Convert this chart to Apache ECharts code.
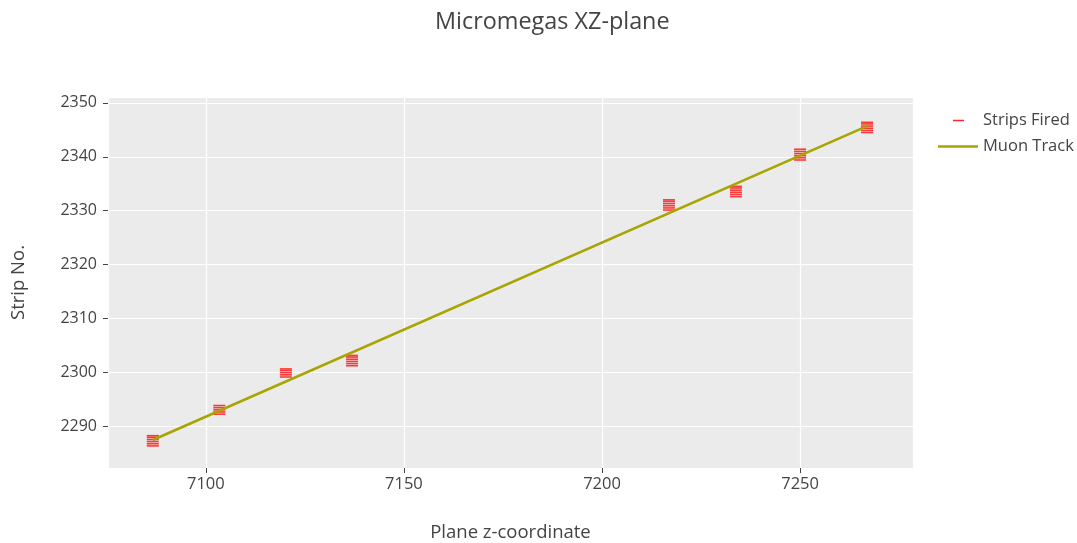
<!DOCTYPE html>
<html>
<head>
<meta charset="utf-8">
<script src="https://cdn.jsdelivr.net/npm/echarts@6/dist/echarts.min.js"></script>
<style>html,body{margin:0;padding:0;background:#fff}#c{width:1077px;height:543px}</style>
</head>
<body>
<div id="c"></div>
<script>
// Plane z-coordinates of the strip clusters
var planeZ = [7086.6, 7103.4, 7120.2, 7136.9, 7216.9, 7233.8, 7250.0, 7266.9];
// Fired strip values per plane
var stripsPlane1 = [2286.3, 2286.7, 2287.1, 2287.5, 2287.9, 2288.2];
var stripsPlane2 = [2292.2, 2292.6, 2293.0, 2293.4, 2293.8];
var stripsPlane3 = [2299.1, 2299.5, 2299.9, 2300.3, 2300.6];
var stripsPlane4 = [2301.2, 2301.6, 2302.0, 2302.4, 2302.8, 2303.1];
var stripsPlane5 = [2330.1, 2330.5, 2330.9, 2331.3, 2331.7, 2332.0];
var stripsPlane6 = [2332.6, 2333.0, 2333.4, 2333.8, 2334.2, 2334.5];
var stripsPlane7 = [2339.4, 2339.8, 2340.2, 2340.6, 2341.0, 2341.4];
var stripsPlane8 = [2344.5, 2344.9, 2345.3, 2345.7, 2346.1, 2346.4];
// Muon track end points
var trackZ = [7086.6, 7266.9];
var trackStrip = [2287.4, 2345.7];

var yTicks = [2290, 2300, 2310, 2320, 2330, 2340, 2350];
var xTicks = [7100, 7150, 7200, 7250];

var allStrips = [stripsPlane1, stripsPlane2, stripsPlane3, stripsPlane4, stripsPlane5, stripsPlane6, stripsPlane7, stripsPlane8];
var stripPoints = [];
for (var i = 0; i < planeZ.length; i++) {
  for (var j = 0; j < allStrips[i].length; j++) stripPoints.push([planeZ[i], allStrips[i][j]]);
}
var trackPoints = trackZ.map(function (z, k) { return [z, trackStrip[k]]; });

var font = 'Open Sans';
var chart = echarts.init(document.getElementById('c'), null, { renderer: 'canvas' });
chart.setOption({
  backgroundColor: '#ffffff',
  animation: false,
  textStyle: { fontFamily: font, color: '#444' },
  title: {
    text: 'Micromegas XZ-plane', left: 430, top: 6,
    textStyle: { fontFamily: font, fontSize: 23.4, fontWeight: 'normal', color: '#444' }
  },
  legend: {
    orient: 'vertical', left: 933, top: 107, itemWidth: 40, itemHeight: 10, itemGap: 9,
    textStyle: { fontFamily: font, fontSize: 16.5, color: '#444', padding: [0, 0, 0, 0] },
    data: [
      { name: 'Strips Fired', icon: 'path://M0,0h0.01v10h-0.01z M15,4.3h11v1.4h-11z M39.99,0h0.01v10h-0.01z', itemStyle: { color: '#ff0000' } },
      { name: 'Muon Track', icon: 'path://M0,0h0.01v10h-0.01z M0,3.8h40v2.4h-40z M39.99,0h0.01v10h-0.01z', itemStyle: { color: '#a8a400' } }
    ]
  },
  grid: { left: 108, right: 164, top: 97, bottom: 75, outerBoundsMode: 'none', containLabel: false,
    show: true, backgroundColor: '#ebebeb', borderWidth: 0 },
  xAxis: {
    type: 'value', min: 7075.3, max: 7278.5, minInterval: 50, maxInterval: 50,
    name: 'Plane z-coordinate', nameLocation: 'middle', nameGap: 55,
    nameTextStyle: { fontFamily: font, fontSize: 18.5, color: '#444' },
    axisLine: { show: false },
    axisTick: { show: true, length: 5, lineStyle: { color: '#444' } },
    axisLabel: { fontFamily: font, fontSize: 16.5, color: '#444', margin: 8, showMinLabel: false, showMaxLabel: false,
      formatter: function (v) { return xTicks.indexOf(v) >= 0 ? String(v) : ''; } },
    splitLine: { show: true, lineStyle: { color: '#ffffff', width: 1.2 } }
  },
  yAxis: {
    type: 'value', min: 2282.2, max: 2351.1, minInterval: 10, maxInterval: 10,
    name: 'Strip No.', nameLocation: 'middle', nameGap: 80, nameRotate: 90,
    nameTextStyle: { fontFamily: font, fontSize: 18.5, color: '#444' },
    axisLine: { show: false },
    axisTick: { show: true, length: 5, lineStyle: { color: '#444' } },
    axisLabel: { fontFamily: font, fontSize: 16, color: '#444', margin: 11, showMinLabel: false, showMaxLabel: false,
      formatter: function (v) { return yTicks.indexOf(v) >= 0 ? String(v) : ''; } },
    splitLine: { show: true, lineStyle: { color: '#ffffff', width: 1.2 } }
  },
  series: [
    {
      name: 'Strips Fired', type: 'scatter', data: stripPoints,
      symbol: 'rect', symbolSize: [12, 1.6],
      itemStyle: { color: '#ff1a1a', borderWidth: 0, opacity: 0.85 },
      emphasis: { disabled: true }, z: 3
    },
    {
      name: 'Muon Track', type: 'line', data: trackPoints,
      showSymbol: false, symbol: 'none',
      lineStyle: { color: '#a8a400', width: 2.5 }, itemStyle: { color: '#a8a400' }, z: 4
    }
  ]
});
</script>
</body>
</html>
